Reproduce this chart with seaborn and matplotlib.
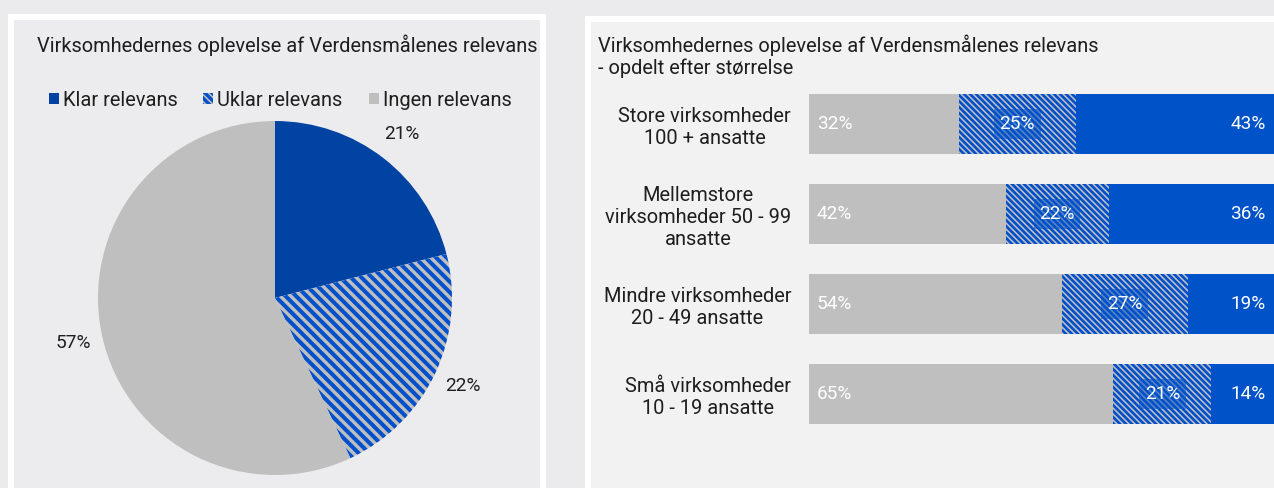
import numpy as np
import pandas as pd
import matplotlib
matplotlib.use("Agg")
import matplotlib.pyplot as plt
from matplotlib.patches import Rectangle, Patch
import seaborn as sns

sns.set_theme(style="white")
plt.rcParams['font.family'] = ['Roboto', 'DejaVu Sans']
plt.rcParams['hatch.linewidth'] = 1.9

# data
pie_labels = ["Klar relevans", "Uklar relevans", "Ingen relevans"]
pie_values = [21, 22, 57]

sizes = ["Store virksomheder\n100 + ansatte",
         "Mellemstore\nvirksomheder 50 - 99\nansatte",
         "Mindre virksomheder\n20 - 49 ansatte",
         "Små virksomheder\n10 - 19 ansatte"]
ingen_pct = [32, 42, 54, 65]
uklar_pct = [25, 22, 27, 21]
klar_pct = [43, 36, 19, 14]

title = "Virksomhedernes oplevelse af Verdensmålenes relevans"
subtitle = "- opdelt efter størrelse"

# colours
PIE_BLUE = '#0043a3'
BAR_BLUE = '#0052c8'
HATCH_BLUE = '#0050cc'
GRAY = '#bfbfbf'
TXT = '#1e1e1e'

DPI = 126
W, H = 1274, 488


def fx(p):
    return p / W


def fy(p):
    return 1 - p / H


def fs(p):
    return p * 72 / DPI


fig = plt.figure(figsize=(W / DPI, H / DPI), dpi=DPI, facecolor='#ebebed')

# panel frames
fig.add_artist(Rectangle((fx(8), fy(520)), (546 - 8) / W, (520 - 14) / H,
                         transform=fig.transFigure, fc='white', ec='none', zorder=-3))
fig.add_artist(Rectangle((fx(14), fy(520)), (540 - 14) / W, (520 - 20) / H,
                         transform=fig.transFigure, fc='#ececee', ec='none', zorder=-2))
fig.add_artist(Rectangle((fx(585), fy(520)), (1290 - 585) / W, (520 - 16) / H,
                         transform=fig.transFigure, fc='white', ec='none', zorder=-3))
fig.add_artist(Rectangle((fx(591), fy(520)), (1290 - 591) / W, (520 - 22) / H,
                         transform=fig.transFigure, fc='#f2f2f2', ec='none', zorder=-2))

# ---- left: pie ----
fig.text(fx(37), fy(45), title, ha='left', va='center', fontsize=fs(20), color=TXT)

r = 177
ax1 = fig.add_axes([fx(275 - r), fy(298 + r), 2 * r / W, 2 * r / H])
wedges, _, autotexts = ax1.pie(pie_values, colors=[PIE_BLUE, GRAY, GRAY], startangle=90,
                               counterclock=False, autopct='%.0f%%', pctdistance=1.17,
                               wedgeprops=dict(linewidth=0),
                               textprops=dict(color=TXT, fontsize=fs(19)))
wedges[1].set_hatch('\\' * 4)
wedges[1].set_edgecolor(HATCH_BLUE)
if hasattr(wedges[1], 'set_hatch_linewidth'):
    wedges[1].set_hatch_linewidth(2.3)
ax1.set_xlim(-1, 1)
ax1.set_ylim(-1, 1)
ax1.axis('off')

handles = [Patch(fc=PIE_BLUE, ec='none', lw=0),
           Patch(fc=GRAY, ec=HATCH_BLUE, lw=0, hatch='\\' * 6),
           Patch(fc=GRAY, ec='none', lw=0)]
fig.legend(handles, pie_labels, loc='center', bbox_to_anchor=(fx(280), fy(100)),
           ncol=3, frameon=False, fontsize=fs(20), handlelength=0.5, handleheight=0.5,
           handletextpad=0.2, columnspacing=1.3, labelcolor=TXT, borderpad=0)

# ---- right: stacked bars ----
fig.text(fx(598), fy(56), title + "\n" + subtitle, ha='left', va='center',
         fontsize=fs(20), color=TXT, linespacing=1.15)

df = pd.DataFrame({'size': sizes, 'ingen': ingen_pct, 'uklar': uklar_pct, 'klar': klar_pct})
df['cum2'] = df['ingen'] + df['uklar']
df['total'] = df['cum2'] + df['klar']

ax2 = fig.add_axes([fx(809), fy(439), 468 / W, 360 / H])
ax2.patch.set_visible(False)
bw = 2 / 3
sns.barplot(data=df, x='total', y='size', color=BAR_BLUE, saturation=1, width=bw,
            linewidth=0, errorbar=None, ax=ax2)
n = len(ax2.patches)
sns.barplot(data=df, x='cum2', y='size', color=GRAY, saturation=1, width=bw,
            linewidth=0, errorbar=None, ax=ax2)
for p in ax2.patches[n:]:
    p.set_hatch('\\' * 7)
    p.set_edgecolor(HATCH_BLUE)
    if hasattr(p, 'set_hatch_linewidth'):
        p.set_hatch_linewidth(1.5)
sns.barplot(data=df, x='ingen', y='size', color=GRAY, saturation=1, width=bw,
            linewidth=0, errorbar=None, ax=ax2)

ax2.set_xlim(0, 100)
ax2.set_ylim(len(sizes) - 0.5, -0.5)
ax2.set_xticks([])
ax2.set_xlabel('')
ax2.set_ylabel('')
ax2.set_yticks(range(len(sizes)))
ax2.set_yticklabels(sizes, ma='center', fontsize=fs(20), color=TXT, linespacing=1.2)
ax2.tick_params(axis='y', length=0, pad=fs(18))
for s in ax2.spines.values():
    s.set_visible(False)

for i, row in df.iterrows():
    ax2.text(1.7, i, f"{row['ingen']}%", ha='left', va='center', color='white', fontsize=fs(19))
    ax2.text(row['ingen'] + row['uklar'] / 2, i, f"{row['uklar']}%", ha='center', va='center',
             color='white', fontsize=fs(19),
             bbox=dict(boxstyle='square,pad=0.3', fc=BAR_BLUE, ec='none', alpha=0.55))
    ax2.text(97.6, i, f"{row['klar']}%", ha='right', va='center', color='white', fontsize=fs(19))

fig.savefig('out.png', dpi=DPI, facecolor=fig.get_facecolor())
